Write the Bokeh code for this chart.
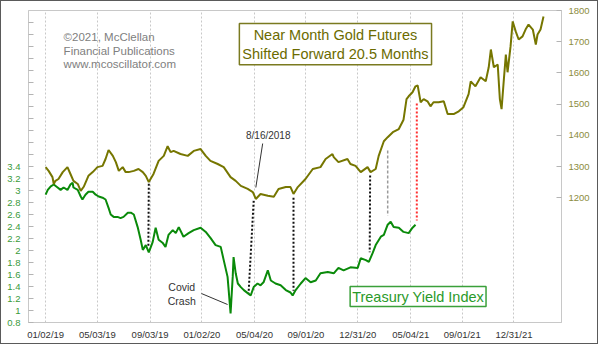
import pandas as pd
from bokeh.plotting import figure
from bokeh.models import Range1d, LinearAxis, FixedTicker, DatetimeTickFormatter, Label
from bokeh.embed import file_html
from bokeh.resources import INLINE

# ---------------- data ----------------
gold_dates = ["2019-01-02","2019-01-09","2019-01-18","2019-01-21","2019-01-25","2019-02-01","2019-02-11",
    "2019-02-22","2019-03-01","2019-03-08","2019-03-18","2019-03-25","2019-04-01","2019-04-12","2019-04-22",
    "2019-05-03","2019-05-15","2019-05-22","2019-05-29","2019-06-08","2019-06-15","2019-06-22","2019-07-01",
    "2019-07-08","2019-07-15","2019-07-27","2019-08-07","2019-08-17","2019-08-24","2019-08-31","2019-09-11",
    "2019-09-23","2019-10-05","2019-10-14","2019-10-21","2019-10-28","2019-11-13","2019-11-30","2019-12-14",
    "2019-12-30","2020-01-11","2020-01-22","2020-02-08","2020-02-22","2020-03-09","2020-03-21","2020-04-02",
    "2020-04-18","2020-04-30","2020-05-07","2020-05-18","2020-06-04","2020-06-18","2020-06-29","2020-07-16",
    "2020-07-27","2020-08-03","2020-08-13","2020-08-31","2020-09-17","2020-10-05","2020-10-17","2020-11-02",
    "2020-11-05","2020-11-16","2020-12-07","2020-12-14","2020-12-26","2021-01-07","2021-01-23","2021-01-30",
    "2021-02-11","2021-02-18","2021-03-02","2021-03-11","2021-03-23","2021-04-06","2021-04-17","2021-04-24",
    "2021-04-29","2021-05-08","2021-05-15","2021-05-20","2021-05-27","2021-06-03","2021-06-12","2021-06-19",
    "2021-06-26","2021-07-08","2021-07-20","2021-07-29","2021-08-12","2021-08-24","2021-09-04","2021-09-16",
    "2021-09-21","2021-10-02","2021-10-14","2021-10-26","2021-11-02","2021-11-07","2021-11-14","2021-11-23",
    "2021-11-28","2021-12-02","2021-12-07","2021-12-12","2021-12-16","2021-12-23","2021-12-28","2022-01-04",
    "2022-01-11","2022-01-20","2022-01-27","2022-02-03","2022-02-13","2022-02-20","2022-02-24","2022-03-03",
    "2022-03-10"]
gold_values = [1298,1286,1266,1244,1254,1260,1282,
    1298,1276,1254,1244,1222,1235,1270,1282,
    1298,1302,1324,1353,1334,1314,1286,1298,
    1282,1282,1286,1292,1282,1270,1250,1276,
    1318,1334,1365,1346,1350,1340,1334,1350,
    1356,1334,1318,1308,1298,1266,1254,1238,
    1228,1218,1196,1212,1206,1203,1228,1234,
    1234,1212,1234,1260,1292,1298,1324,1340,
    1330,1314,1324,1308,1302,1282,1298,1282,
    1292,1334,1381,1394,1410,1420,1450,1516,
    1525,1538,1557,1560,1506,1516,1509,1493,
    1506,1506,1509,1468,1468,1477,1490,1532,
    1573,1557,1586,1573,1618,1675,1618,1627,
    1516,1484,1573,1659,1602,1685,1765,1733,
    1707,1717,1739,1755,1739,1691,1723,1739,
    1781]

yield_dates = ["2019-01-02","2019-01-07","2019-01-14","2019-01-21","2019-01-30","2019-02-06","2019-02-13",
    "2019-02-22","2019-03-01","2019-03-06","2019-03-08","2019-03-18","2019-03-25","2019-03-29","2019-04-05",
    "2019-04-12","2019-04-22","2019-04-29","2019-05-06","2019-05-15","2019-05-22","2019-05-29","2019-06-03",
    "2019-06-10","2019-06-19","2019-06-26","2019-07-03","2019-07-13","2019-07-20","2019-07-27","2019-08-05",
    "2019-08-12","2019-08-17","2019-08-24","2019-08-31","2019-09-09","2019-09-16","2019-09-23","2019-10-02",
    "2019-10-09","2019-10-16","2019-10-26","2019-11-02","2019-11-09","2019-11-20","2019-12-02","2019-12-14",
    "2019-12-30","2020-01-11","2020-01-22","2020-02-03","2020-02-15","2020-02-22","2020-03-02","2020-03-04",
    "2020-03-09","2020-03-14","2020-03-16","2020-03-21","2020-03-26","2020-04-02","2020-04-09","2020-04-18",
    "2020-04-25","2020-05-02","2020-05-11","2020-05-18","2020-05-25","2020-06-04","2020-06-11","2020-06-22",
    "2020-07-04","2020-07-16","2020-07-27","2020-08-01","2020-08-08","2020-08-20","2020-08-31","2020-09-12",
    "2020-09-24","2020-10-05","2020-10-22","2020-11-05","2020-11-16","2020-11-28","2020-12-14","2020-12-31",
    "2021-01-07","2021-01-19","2021-01-26","2021-02-04","2021-02-11","2021-02-23","2021-03-02","2021-03-11",
    "2021-03-18","2021-03-25","2021-04-06","2021-04-17","2021-04-29","2021-05-08","2021-05-15"]
yield_values = [2.93,3.01,3.07,3.10,3.05,3.01,3.05,
    3.01,3.10,3.13,3.05,3.01,2.90,2.85,2.93,
    2.98,2.98,2.93,2.90,2.88,2.85,2.71,2.60,
    2.56,2.56,2.54,2.56,2.63,2.63,2.60,2.39,
    2.18,2.01,2.09,1.97,2.14,2.38,2.18,2.13,
    2.06,2.26,2.34,2.29,2.39,2.23,2.29,2.34,
    2.38,2.31,2.21,2.09,2.06,1.84,1.56,1.39,
    0.95,1.56,1.89,1.62,1.45,1.39,1.34,1.29,
    1.25,1.39,1.45,1.42,1.47,1.67,1.50,1.45,
    1.42,1.34,1.30,1.25,1.34,1.45,1.54,1.47,
    1.50,1.62,1.64,1.62,1.71,1.67,1.72,1.71,
    1.87,1.84,1.81,1.96,2.09,2.23,2.26,2.43,
    2.48,2.39,2.38,2.31,2.29,2.38,2.43]

# connectors: gold trough (top) to yield trough (bottom)
conn_top_dates = ["2019-08-31","2020-05-02","2020-08-03","2021-01-29","2021-03-11","2021-05-18"]
conn_top_gold = [1245, 1190, 1200, 1271, 1351, 1502]
conn_bot_dates = ["2019-08-30","2020-04-20","2020-08-03","2021-01-28","2021-03-11","2021-05-18"]
conn_bot_yield = [2.08, 1.28, 1.33, 1.97, 2.58, 2.50]
conn_kind = ["match", "match", "match", "match", "pending", "next"]

yield_ticks = [0.8, 1.0, 1.2, 1.4, 1.6, 1.8, 2.0, 2.2, 2.4, 2.6, 2.8, 3.0, 3.2, 3.4]
yield_tick_labels = ["0.8", "1", "1.2", "1.4", "1.6", "1.8", "2", "2.2", "2.4", "2.6", "2.8", "3", "3.2", "3.4"]
yield_extra_ticks = [3.6, 3.8, 4.0, 4.2, 4.4, 4.6, 4.8, 5.0, 5.2, 5.4, 5.6, 5.8]
gold_ticks = [1200, 1300, 1400, 1500, 1600, 1700, 1800]
date_ticks = ["2019-01-02", "2019-05-03", "2019-09-03", "2020-01-02", "2020-05-04",
              "2020-09-01", "2020-12-31", "2021-05-04", "2021-09-01", "2021-12-31"]
date_tick_labels = ["01/02/19", "05/03/19", "09/03/19", "01/02/20", "05/04/20",
                    "09/01/20", "12/31/20", "05/04/21", "09/01/21", "12/31/21"]

# ---------------- figure ----------------
Y0, Y1 = 0.8, 6.0
G0, G1 = 800, 1800
SANS = "Liberation Sans"
AX_SIZE = "9.5px"

def ms(s):
    return pd.Timestamp(s).value // 10**6

p = figure(width=598, height=344, x_axis_type="datetime", output_backend="svg", toolbar_location=None,
           x_range=Range1d(ms("2018-11-23"), ms("2022-04-21")), y_range=Range1d(Y0, Y1),
           min_border_left=27, min_border_right=38, min_border_top=9, min_border_bottom=23)
p.styles = {"border": "1px solid #5a5a5a"}
p.background_fill_color = "white"
p.border_fill_color = "white"
p.outline_line_color = "#c8c8c8"
p.extra_y_ranges = {"gold": Range1d(G0, G1)}

# x axis
xt = [ms(d) for d in date_ticks]
p.xaxis.ticker = FixedTicker(ticks=xt)
p.xaxis.formatter = DatetimeTickFormatter(days="%m/%d/%y", months="%m/%d/%y", years="%m/%d/%y")
p.xaxis.major_label_overrides = {t: l for t, l in zip(xt, date_tick_labels)}
p.xaxis.axis_line_color = "#c8c8c8"
p.xaxis.major_tick_in = 0
p.xaxis.major_tick_out = 0
p.xaxis.minor_tick_line_color = None
p.xaxis.major_label_text_font = SANS
p.xaxis.major_label_text_font_size = AX_SIZE
p.xaxis.major_label_text_color = "#333333"
p.xaxis.major_label_standoff = 6

# left axis
ly = p.yaxis[0]
ly.ticker = FixedTicker(ticks=yield_ticks, minor_ticks=yield_extra_ticks)
ly.major_label_overrides = {t: l for t, l in zip(yield_ticks, yield_tick_labels)}
ly.axis_line_color = "#c8c8c8"
ly.major_tick_in = 5
ly.major_tick_out = 0
ly.minor_tick_in = 5
ly.minor_tick_out = 0
ly.major_tick_line_color = "#b4b4b4"
ly.minor_tick_line_color = "#b4b4b4"
ly.major_label_text_font = SANS
ly.major_label_text_font_size = AX_SIZE
ly.major_label_text_color = "#3a9a3a"
ly.major_label_standoff = 8

# right axis
ry = LinearAxis(y_range_name="gold", ticker=FixedTicker(ticks=gold_ticks))
ry.axis_line_color = "#c8c8c8"
ry.major_tick_in = 5
ry.major_tick_out = 0
ry.minor_tick_line_color = None
ry.major_tick_line_color = "#b4b4b4"
ry.major_label_text_font = SANS
ry.major_label_text_font_size = AX_SIZE
ry.major_label_text_color = "#8c8c40"
ry.major_label_standoff = 7
p.add_layout(ry, "right")

p.xgrid.grid_line_color = "#c8c8c8"
p.xgrid.grid_line_dash = "2 2"
p.ygrid.grid_line_color = None

# connectors
def gold_to_left(g):
    return Y0 + (g - G0) * (Y1 - Y0) / (G1 - G0)

styles = {"match": ("#111111", "2 2", 2), "pending": ("#9a9a9a", "3 2", 1.5), "next": ("#ff3030", "2 2", 2)}
for td, tg, bd, byv, k in zip(conn_top_dates, conn_top_gold, conn_bot_dates, conn_bot_yield, conn_kind):
    c, dash, w = styles[k]
    p.segment(x0=[ms(td)], y0=[gold_to_left(tg)], x1=[ms(bd)], y1=[byv], line_color=c, line_dash=dash, line_width=w)

# leader lines
p.segment(x0=[ms("2020-05-23"), ms("2020-01-01")], y0=[3.783, 1.283],
          x1=[ms("2020-05-07"), ms("2020-03-02")], y1=[3.05, 1.10], line_color="#333333", line_width=1)

# series
p.line(x=[ms(d) for d in yield_dates], y=yield_values, line_color="#0a8a0a", line_width=2)
p.line(x=[ms(d) for d in gold_dates], y=gold_values, y_range_name="gold", line_color="#767600", line_width=2)

# labels
p.add_layout(Label(x=ms("2020-11-09"), y=5.44, text="Near Month Gold Futures\nShifted Forward 20.5 Months",
                   text_align="center", text_baseline="middle", text_font=SANS, text_font_size="14.5px",
                   text_color="#6b6b00", border_line_color="#7a7a20", border_line_width=1.5,
                   background_fill_color="white", padding=3, text_line_height=1.2))
p.add_layout(Label(x=ms("2021-05-21"), y=1.233, text="Treasury Yield Index",
                   text_align="center", text_baseline="middle", text_font=SANS, text_font_size="14.5px",
                   text_color="#2a9a2a", border_line_color="#3aa03a", border_line_width=1.5,
                   background_fill_color="white", padding=2))
p.add_layout(Label(x=ms("2019-02-13"), y=5.66, text="\u00a92021, McClellan\nFinancial Publications\nwww.mcoscillator.com",
                   text_align="left", text_baseline="top", text_font=SANS, text_font_size="11.5px",
                   text_color="#808080", text_line_height=1.15))
p.add_layout(Label(x=ms("2020-06-05"), y=3.917, text="8/16/2018", text_align="center", text_baseline="middle",
                   text_font=SANS, text_font_size="10px", text_color="#333333"))
p.add_layout(Label(x=ms("2019-11-16"), y=1.275, text="Covid\nCrash", text_align="center", text_baseline="middle",
                   text_font=SANS, text_font_size="10.5px", text_color="#333333"))

open("out.html", "w").write(file_html(p, INLINE))
